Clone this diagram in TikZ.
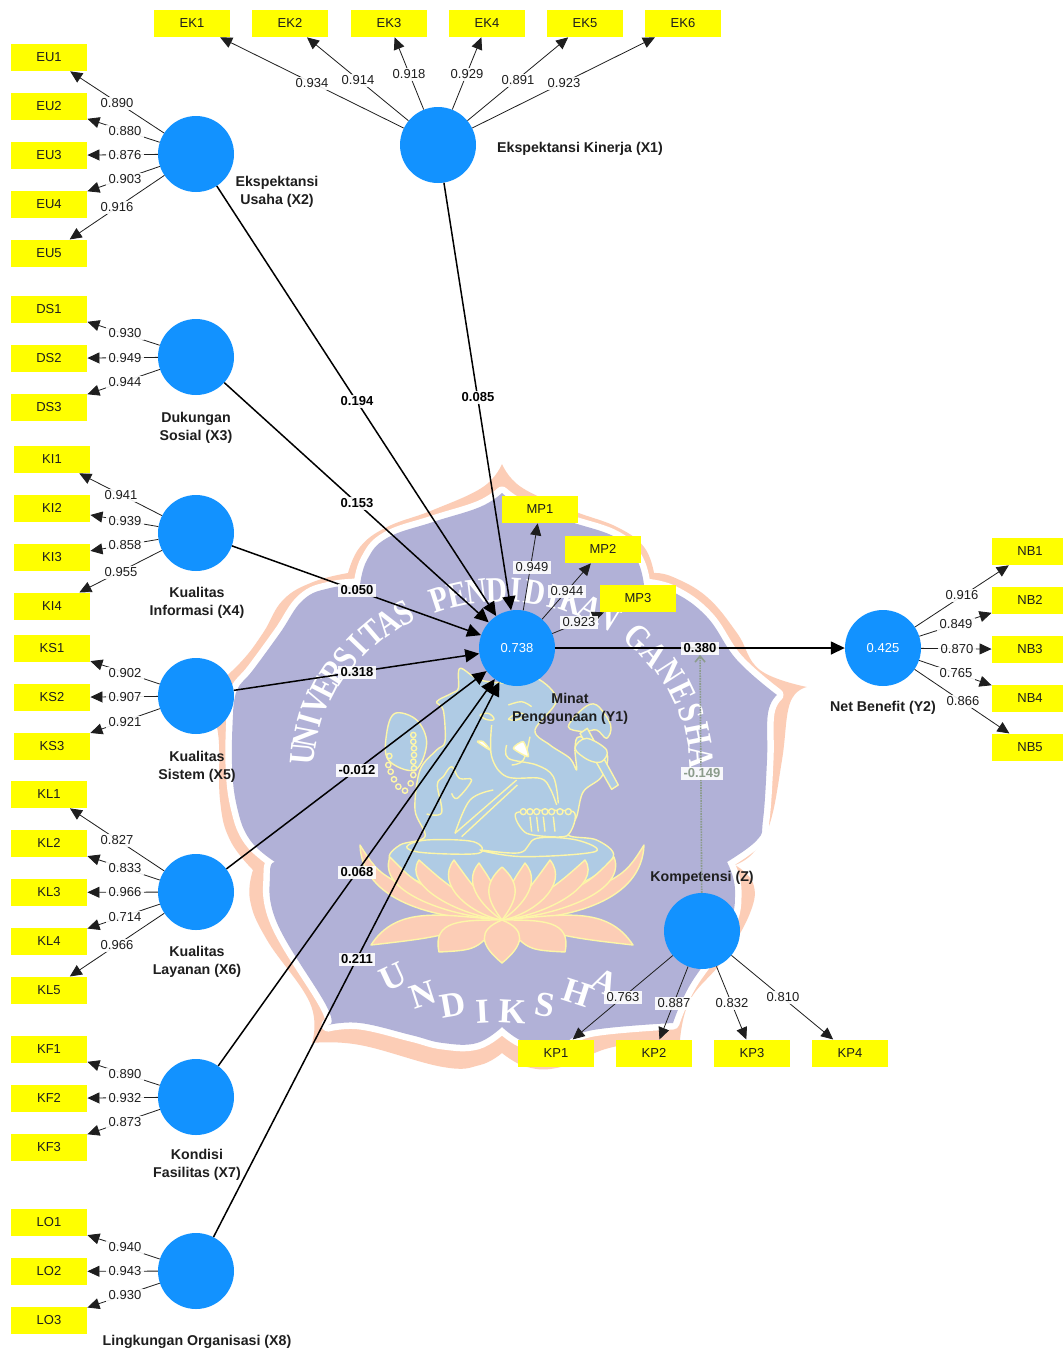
\documentclass[tikz,border=0pt]{standalone}
\usepackage{fontspec}
\usepackage{graphicx}
\setmainfont{Liberation Sans}
\newfontfamily\serifwm{Liberation Serif}
\usetikzlibrary{arrows.meta}
\definecolor{cblue}{HTML}{1292FF}
\definecolor{cyel}{HTML}{FFFF00}
\definecolor{wmpurple}{HTML}{B1B1D7}
\definecolor{wmsalmon}{HTML}{FCCDB6}
\definecolor{wmblue}{HTML}{AFCBE4}
\definecolor{wmcream}{HTML}{FDF6A8}
\definecolor{ink}{HTML}{1E1E1E}
\definecolor{modcol}{HTML}{8C9C8C}
\tikzset{
  latent/.style={circle,fill=cblue,minimum size=76pt,inner sep=0pt,text=white,font=\fontsize{13}{15}\selectfont},
  indic/.style={rectangle,fill=cyel,minimum width=76.5pt,minimum height=27.5pt,inner sep=0pt,text=ink,yshift=-.4pt,font=\fontsize{13}{15}\selectfont},
  caption/.style={align=center,text=ink,yshift=-.8pt,font=\fontsize{14.2}{18}\selectfont\bfseries},
  loadline/.style={draw=ink,line width=.8pt,-{Triangle[length=12pt,width=11pt]}},
  pathline/.style={draw=black,line width=1.5pt,-{Triangle[length=14pt,width=13pt]}},
  modline/.style={draw=modcol,line width=1.6pt,densely dotted,-{Straight Barb[length=6pt,width=10pt]}},
  lab/.style={fill=white,fill opacity=.9,text opacity=1,inner xsep=2.5pt,inner ysep=1.5pt,yshift=-.5pt,text=ink,font=\fontsize{13}{15}\selectfont},
  blab/.style={lab,font=\fontsize{13}{15}\selectfont\bfseries,text=black},
  gband/.style={draw=wmcream,line width=1.4pt,line join=round},
  petalst/.style={gband,fill=wmsalmon},
  wmletter/.style={text=white,inner sep=0pt,font=\fontsize{36}{36}\serifwm\bfseries},
}
\newcommand{\outerwm}{plot[smooth,tension=.7] coordinates {(502,464) (521,487) (571,510) (617,527) (644,547) (654,573)}
 -- plot[smooth,tension=.7] coordinates {(654,573) (673,577) (707,597) (737,633) (760,670) (807,687)}
 -- plot[smooth,tension=.7] coordinates {(807,687) (790,703) (782,760) (770,823) (753,853) (735,865)}
 -- plot[smooth,tension=.7] coordinates {(735,865) (753,883) (750,913) (723,960) (690,1000) (680,1040)}
 -- plot[smooth,tension=.7] coordinates {(680,1040) (613,1047) (561,1067) (527,1067) (502,1053)}
 -- plot[smooth,tension=.7] coordinates {(502,1053) (480,1065) (443,1067) (360,1045) (312,1043)}
 -- plot[smooth,tension=.7] coordinates {(312,1043) (310,1003) (267,940) (250,900) (253,870)}
 -- plot[smooth,tension=.7] coordinates {(253,870) (230,840) (220,800) (218,733) (205,695)}
 -- plot[smooth,tension=.7] coordinates {(205,695) (240,663) (263,633) (283,600) (313,582) (348,573)}
 -- plot[smooth,tension=.7] coordinates {(348,573) (360,547) (387,527) (433,510) (483,487) (502,464)} -- cycle}
\newcommand{\innerwm}{plot[smooth,tension=.7] coordinates {(502,493) (524,507) (571,522) (617,538) (637,560) (644,585)}
 -- plot[smooth,tension=.7] coordinates {(644,585) (673,592) (707,617) (737,660) (777,695)}
 -- plot[smooth,tension=.7] coordinates {(777,695) (768,713) (767,760) (763,820) (757,840) (727,862)}
 -- plot[smooth,tension=.7] coordinates {(727,862) (735,890) (727,930) (690,985) (673,1023)}
 -- plot[smooth,tension=.7] coordinates {(673,1023) (593,1030) (561,1043) (527,1043) (502,1027)}
 -- plot[smooth,tension=.7] coordinates {(502,1027) (477,1043) (443,1043) (411,1035) (360,1023) (328,1025)}
 -- plot[smooth,tension=.7] coordinates {(328,1025) (327,1007) (277,923) (270,873) (275,862)}
 -- plot[smooth,tension=.7] coordinates {(275,862) (250,840) (237,807) (232,764) (233,715)}
 -- plot[smooth,tension=.7] coordinates {(233,715) (237,690) (253,670) (280,633) (303,600) (330,588) (360,585)}
 -- plot[smooth,tension=.7] coordinates {(360,585) (367,560) (387,538) (433,522) (480,507) (502,493)} -- cycle}
% petal: c1 c2 tip back-control, offsets from the axis x=502
\newcommand{\petal}[8]{\path[petalst] (502,920) .. controls ({502+\s*#1},#2) and ({502+\s*#3},#4) .. ({502+\s*#5},#6) .. controls ({502+\s*#7},#8) .. (502,920);}
\newcommand{\ind}[4]{\node[indic] (#1) at (#2,#3) {#4};}
\newcommand{\loading}[5]{\draw[loadline] (#1) -- (#2); \node[lab] (l#1#2) at (#3,#4) {#5};}
\newcommand{\struct}[5]{\draw[pathline] (#1) -- (#2); \node[blab] (l#1#2) at (#3,#4) {#5};}
\begin{document}
\begin{tikzpicture}[x=1pt,y=-1pt]
\clip (0,0) rectangle (1063,1353);
\fill[white] (0,0) rectangle (1063,1353);
% watermark crest
\fill[wmsalmon] \outerwm;
\draw[white,line width=13pt,line join=round] \innerwm;
\fill[wmpurple] \innerwm;
% arc lettering
\foreach \c/\i in {U/0,N/1,I/2,V/3,E/4,R/5,S/6,I/7,T/8,A/9,S/10,P/12,E/13,N/14,D/15,I/16,D/17,I/18,K/19,A/20,N/21,G/23,A/24,N/25,E/26,S/27,H/28,A/29}{
  \pgfmathsetmacro{\ang}{\i<=23 ? 175-5.56*\i : 47.5-7.25*(\i-23)}
  \node[wmletter,rotate=\ang-90] at ({502+200*cos(\ang)},{770-180*sin(\ang)}) {\scalebox{.82}[1]{\c}};
}
\foreach \c/\x/\y/\r in {U/393/977/25,N/423/995/18,D/453/1005/10,I/483/1012/3,K/513/1012/-3,S/545/1005/-10,H/577/993/-18,A/605/982/-25}{
  \node[wmletter,font=\fontsize{35}{35}\serifwm\bfseries,rotate=\r] at (\x,\y) {\c};
}
% Ganesha
\begin{scope}[shift={(380,670)},x=.3333pt,y=-.3333pt]
\draw[gband,fill=wmblue] plot[smooth cycle,tension=.55] coordinates {(240,-5) (300,30) (400,40) (470,25) (530,90) (465,180) (510,225) (570,265) (590,300) (585,235) (600,200) (680,250) (665,320) (610,365) (590,440) (565,495) (650,510) (700,560) (600,640) (365,680) (130,640) (30,570) (60,525) (135,500) (105,420) (120,300) (170,240) (195,215) (190,120) (170,95) (215,70) (235,55)};
\draw[gband,fill=wmblue] plot[smooth cycle,tension=.6] coordinates {(45,130) (110,150) (140,220) (105,300) (25,270) (20,190)};
\foreach \x/\y in {100/195,100/215,102/235,102/255,100/275,102/295,100/315,92/340,75/362,55/350,42/328,32/305,25/285,28/258}{
  \draw[gband] (\x,\y) circle (8);
}
\draw[gband,fill=wmblue] plot[smooth cycle,tension=.6] coordinates {(565,170) (610,115) (650,105) (692,165) (680,205) (650,180) (610,185)};
\draw[gband,fill=wmblue] (600,190) -- (622,175) -- (715,345) -- (695,358) -- cycle;
\draw[gband,fill=wmblue] plot[smooth cycle,tension=.6] coordinates {(585,235) (620,205) (680,240) (665,275) (625,270)};
\draw[gband] plot[smooth,tension=.6] coordinates {(335,165) (335,260) (380,320) (480,325) (510,355) (530,405)};
\draw[gband] plot[smooth,tension=.6] coordinates {(380,225) (385,265) (470,285) (520,320) (535,400)};
\draw[gband] (225,490) -- (410,330); \draw[gband] (245,500) -- (412,345);
\draw[gband] plot[smooth,tension=.6] coordinates {(450,200) (430,270) (395,285)};
\draw[gband,fill=white] plot[smooth cycle,tension=.4] coordinates {(292,215) (330,240) (310,215)};
\draw[gband,fill=white] plot[smooth cycle,tension=.4] coordinates {(400,235) (430,215) (445,260)};
\draw[gband] plot[smooth,tension=.8] coordinates {(300,135) (325,130) (342,148) (318,148) (300,135)};
\draw[gband] plot[smooth,tension=.8] coordinates {(385,148) (410,130) (432,135) (410,150) (385,148)};
\draw[gband] plot[smooth,tension=.6] coordinates {(385,105) (425,95) (455,110)};
\draw[gband] plot[smooth,tension=.6] coordinates {(140,432) (185,428) (172,345) (190,320) (215,290) (238,325) (275,330) (232,385) (215,370)};
\draw[gband] plot[smooth,tension=.6] coordinates {(225,490) (270,390) (340,360)};
\draw[gband,fill=wmblue] plot[smooth cycle,tension=.6] coordinates {(80,530) (140,510) (280,515) (295,550) (130,548)};
\draw[gband,fill=wmblue] plot[smooth cycle,tension=.6] coordinates {(300,540) (420,548) (470,505) (590,510) (645,545) (430,560)};
\draw[gband,fill=wmblue] plot[smooth cycle,tension=.4] coordinates {(410,428) (580,425) (560,498) (440,490)};
\foreach \x in {430,450,470,495,515,540,565}{\draw[gband,fill=wmblue] (\x,425) circle (9);}
\foreach \x in {450,470,490,520}{\draw[gband] (\x,440) -- (\x+5,485);}
\end{scope}
% lotus
\foreach \s in {1,-1}{
  \petal{70}{920}{140}{900}{142}{845}{120}{880}
  \petal{60}{915}{125}{890}{112}{857}{85}{885}
  \petal{45}{915}{100}{885}{83}{860}{55}{885}
  \petal{30}{915}{68}{885}{48}{860}{30}{885}
  \petal{15}{910}{42}{885}{23}{863}{8}{885}
}
\path[petalst] (502,920) .. controls (517,900) and (522,885) .. (502,867) .. controls (482,885) and (487,900) .. (502,920);
\foreach \s in {1,-1}{
  \petal{60}{915}{105}{905}{131}{945}{70}{938}
  \petal{40}{920}{70}{920}{63}{952}{25}{950}
}
\path[petalst] (502,920) .. controls (527,930) and (524,945) .. (502,963) .. controls (480,945) and (477,930) .. (502,920);
% indicators
\ind{EUa}{49}{57}{EU1}\ind{EUb}{49}{106}{EU2}\ind{EUc}{49}{155}{EU3}\ind{EUd}{49}{204}{EU4}\ind{EUe}{49}{253}{EU5}
\ind{EKa}{192}{23}{EK1}\ind{EKb}{290}{23}{EK2}\ind{EKc}{389}{23}{EK3}\ind{EKd}{487}{23}{EK4}\ind{EKe}{585}{23}{EK5}\ind{EKf}{683}{23}{EK6}
\ind{DSa}{49}{309}{DS1}\ind{DSb}{49}{358}{DS2}\ind{DSc}{49}{407}{DS3}
\ind{KIa}{52}{459}{KI1}\ind{KIb}{52}{508}{KI2}\ind{KIc}{52}{557}{KI3}\ind{KId}{52}{606}{KI4}
\ind{KSa}{52}{648}{KS1}\ind{KSb}{52}{697}{KS2}\ind{KSc}{52}{746}{KS3}
\ind{KLa}{49}{794}{KL1}\ind{KLb}{49}{843}{KL2}\ind{KLc}{49}{892}{KL3}\ind{KLd}{49}{941}{KL4}\ind{KLe}{49}{990}{KL5}
\ind{KFa}{49}{1049}{KF1}\ind{KFb}{49}{1098}{KF2}\ind{KFc}{49}{1147}{KF3}
\ind{LOa}{49}{1222}{LO1}\ind{LOb}{49}{1271}{LO2}\ind{LOc}{49}{1320}{LO3}
\ind{MPa}{540}{509}{MP1}\ind{MPb}{603}{549}{MP2}\ind{MPc}{638}{598}{MP3}
\ind{NBa}{1030}{551}{NB1}\ind{NBb}{1030}{600}{NB2}\ind{NBc}{1030}{649}{NB3}\ind{NBd}{1030}{698}{NB4}\ind{NBe}{1030}{747}{NB5}
\ind{KPa}{556}{1053}{KP1}\ind{KPb}{654}{1053}{KP2}\ind{KPc}{752}{1053}{KP3}\ind{KPd}{850}{1053}{KP4}
% latent variables
\node[latent] (EU) at (196,154) {};
\node[latent] (EK) at (438,145) {};
\node[latent] (DS) at (196,357) {};
\node[latent] (KI) at (196,533) {};
\node[latent] (KS) at (196,696) {};
\node[latent] (KL) at (196,892) {};
\node[latent] (KF) at (196,1097) {};
\node[latent] (LO) at (196,1271) {};
\node[latent] (Y) at (517,648) {0.738};
\node[latent] (NB) at (883,648) {0.425};
\node[latent] (Z) at (702,931) {};
% captions
\node[caption] (cEU) at (277,191) {Ekspektansi\\Usaha (X2)};
\node[caption] (cEK) at (580,148) {Ekspektansi Kinerja (X1)};
\node[caption] (cDS) at (196,427) {Dukungan\\Sosial (X3)};
\node[caption] (cKI) at (197,602) {Kualitas\\Informasi (X4)};
\node[caption] (cKS) at (197,766) {Kualitas\\Sistem (X5)};
\node[caption] (cKL) at (197,961) {Kualitas\\Layanan (X6)};
\node[caption] (cKF) at (197,1164) {Kondisi\\Fasilitas (X7)};
\node[caption] (cLO) at (197,1341) {Lingkungan Organisasi (X8)};
\node[caption] (cY) at (570,708) {Minat\\Penggunaan (Y1)};
\node[caption] (cNB) at (883,707) {Net Benefit (Y2)};
\node[caption] (cZ) at (702,877) {Kompetensi (Z)};
% outer loadings
\loading{EU}{EUa}{117}{103}{0.890}\loading{EU}{EUb}{125}{131}{0.880}\loading{EU}{EUc}{125}{155}{0.876}\loading{EU}{EUd}{125}{179}{0.903}\loading{EU}{EUe}{117}{207}{0.916}
\loading{EK}{EKa}{312}{83}{0.934}\loading{EK}{EKb}{358}{80}{0.914}\loading{EK}{EKc}{409}{74}{0.918}\loading{EK}{EKd}{467}{74}{0.929}\loading{EK}{EKe}{518}{80}{0.891}\loading{EK}{EKf}{564}{83}{0.923}
\loading{DS}{DSa}{125}{333}{0.930}\loading{DS}{DSb}{125}{358}{0.949}\loading{DS}{DSc}{125}{382}{0.944}
\loading{KI}{KIa}{121}{495}{0.941}\loading{KI}{KIb}{125}{521}{0.939}\loading{KI}{KIc}{125}{545}{0.858}\loading{KI}{KId}{121}{572}{0.955}
\loading{KS}{KSa}{125}{673}{0.902}\loading{KS}{KSb}{125}{697}{0.907}\loading{KS}{KSc}{125}{722}{0.921}
\loading{KL}{KLa}{117}{840}{0.827}\loading{KL}{KLb}{125}{868}{0.833}\loading{KL}{KLc}{125}{892}{0.966}\loading{KL}{KLd}{125}{917}{0.714}\loading{KL}{KLe}{117}{945}{0.966}
\loading{KF}{KFa}{125}{1074}{0.890}\loading{KF}{KFb}{125}{1098}{0.932}\loading{KF}{KFc}{125}{1122}{0.873}
\loading{LO}{LOa}{125}{1247}{0.940}\loading{LO}{LOb}{125}{1271}{0.943}\loading{LO}{LOc}{125}{1295}{0.930}
\loading{Y}{MPa}{532}{567}{0.949}\loading{Y}{MPb}{567}{591}{0.944}\loading{Y}{MPc}{579}{622}{0.923}
\loading{NB}{NBa}{962}{595}{0.916}\loading{NB}{NBb}{956}{624}{0.849}\loading{NB}{NBc}{957}{649}{0.870}\loading{NB}{NBd}{956}{673}{0.765}\loading{NB}{NBe}{963}{701}{0.866}
\loading{Z}{KPa}{623}{997}{0.763}\loading{Z}{KPb}{674}{1003}{0.887}\loading{Z}{KPc}{732}{1003}{0.832}\loading{Z}{KPd}{783}{997}{0.810}
% structural paths
\struct{EU}{Y}{357}{401}{0.194}
\struct{EK}{Y}{478}{397}{0.085}
\struct{DS}{Y}{357}{503}{0.153}
\struct{KI}{Y}{357}{590}{0.050}
\struct{KS}{Y}{357}{672}{0.318}
\struct{KL}{Y}{357}{770}{-0.012}
\struct{KF}{Y}{357}{872}{0.068}
\struct{LO}{Y}{357}{959}{0.211}
\struct{Y}{NB}{700}{648}{0.380}
\draw[modline] (Z) -- (lYNB);
\node[lab,text=modcol,font=\fontsize{13}{15}\selectfont\bfseries] (lZmod) at (702,773) {-0.149};
\end{tikzpicture}
\end{document}
